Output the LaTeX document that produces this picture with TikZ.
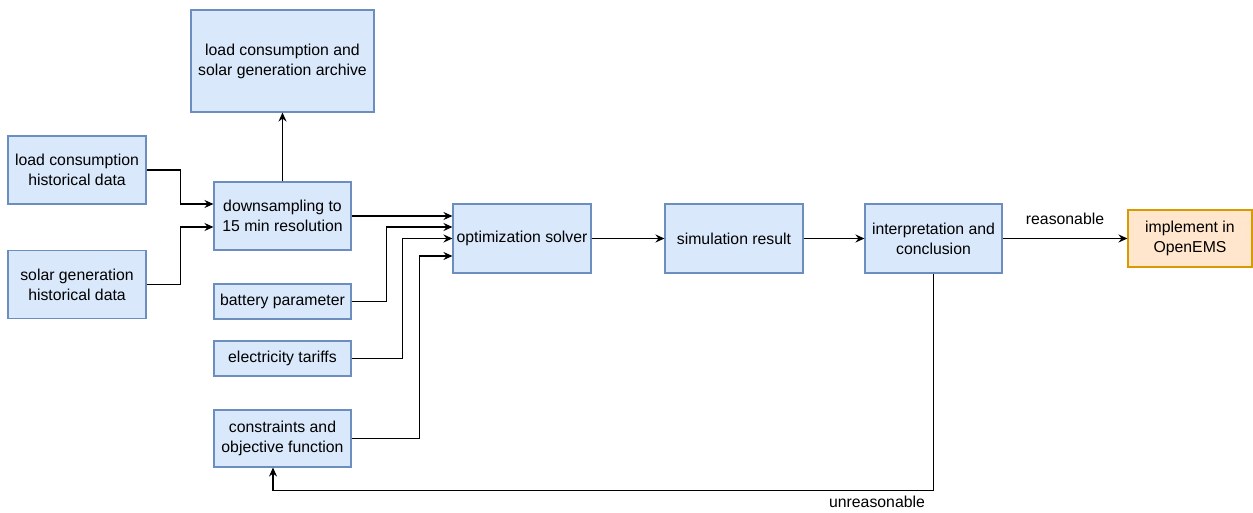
\documentclass[tikz,border=0pt]{standalone}
\usepackage{fontspec}
\setmainfont{Liberation Sans}
\usetikzlibrary{arrows.meta}
\definecolor{bluefill}{HTML}{DAE8FC}
\definecolor{bluedraw}{HTML}{6C8EBF}
\definecolor{orangefill}{HTML}{FFE6CC}
\definecolor{orangedraw}{HTML}{D79B00}
\begin{document}
\begin{tikzpicture}[x=1pt,y=-1pt,
  every node/.style={font=\fontsize{15.8}{20}\selectfont, inner sep=0pt, align=center},
  bluebox/.style={draw=bluedraw, fill=bluefill, line width=1.1pt},
  orangebox/.style={draw=orangedraw, fill=orangefill, line width=1.1pt},
  arr/.style={draw=black, line width=1.2pt, -{Stealth[length=9pt,width=8pt,inset=3pt]}},
  lbl/.style={fill=none, draw=none}]
  \useasboundingbox (0,0) rectangle (1253,513);

  % source data and preprocessing
  \node[bluebox, minimum width=138pt, minimum height=68pt] (lc) at (77,170) {load consumption\\historical data};
  \node[bluebox, minimum width=138pt, minimum height=68pt] (sg) at (77,284.5) {solar generation\\historical data};
  \node[bluebox, minimum width=137pt, minimum height=68pt] (ds) at (282.5,216) {downsampling to\\15 min resolution};
  \node[bluebox, minimum width=183pt, minimum height=102pt] (ar) at (282.5,61) {load consumption and\\solar generation archive};

  % further solver inputs
  \node[bluebox, minimum width=137pt, minimum height=35pt] (bp) at (282.5,301.5) {battery parameter};
  \node[bluebox, minimum width=137pt, minimum height=35pt] (et) at (282.5,358.5) {electricity tariffs};
  \node[bluebox, minimum width=137pt, minimum height=57pt] (co) at (282.5,438.5) {constraints and\\objective function};

  % main chain
  \node[bluebox, minimum width=138pt, minimum height=69pt] (os) at (522,238.5) {optimization solver};
  \node[bluebox, minimum width=138pt, minimum height=69pt] (sr) at (734,238.5) {simulation result};
  \node[bluebox, minimum width=137pt, minimum height=69pt] (ic) at (933.5,238.5) {interpretation and\\conclusion};
  \node[orangebox, minimum width=124pt, minimum height=57pt] (im) at (1190,238.5) {implement in\\OpenEMS};

  % connectors
  \draw[arr] (lc.east) -- ++(34,0) |- ([yshift=12pt]ds.west);
  \draw[arr] (sg.east) -- ++(34,0) |- ([yshift=-11pt]ds.west);
  \draw[arr] (ds.north) -- (ar.south);
  \draw[arr] (ds.east) -- ([yshift=22.5pt]os.west);
  \draw[arr] (bp.east) -- ++(35,0) |- ([yshift=11.5pt]os.west);
  \draw[arr] (et.east) -- ++(51,0) |- ([yshift=0pt]os.west);
  \draw[arr] (co.east) -- ++(68,0) |- ([yshift=-17.5pt]os.west);
  \draw[arr] (os.east) -- (sr.west);
  \draw[arr] (sr.east) -- (ic.west);
  \draw[arr] (ic.east) -- node[lbl, yshift=20pt] {reasonable} (im.west);
  \draw[arr] (ic.south) -- ++(0,217) -| ([xshift=-9.5pt]co.south);
  \node[lbl] (unr) at (877,502) {unreasonable};
\end{tikzpicture}
\end{document}
